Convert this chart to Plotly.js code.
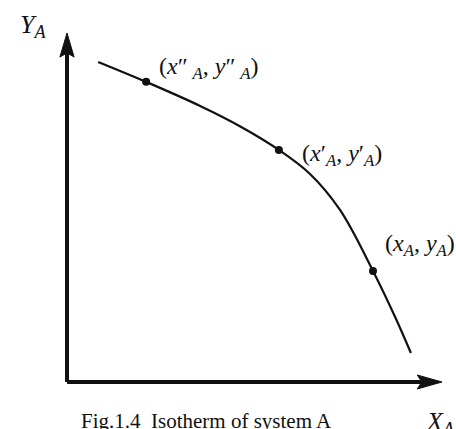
<!DOCTYPE html>
<html>
<head>
<meta charset="utf-8">
<script src="https://cdn.plot.ly/plotly-3.0.1.min.js"></script>
<style>
  html, body { margin: 0; padding: 0; background: #fff; }
  #chart { width: 456px; height: 429px; }
</style>
</head>
<body>
<div id="chart"></div>
<script>
// Isotherm of system A: Y_A against X_A (arbitrary units, 0-10)
const curveX = [0.83, 2.11, 3.55, 4.61, 5.65, 6.48, 7.28, 8.16, 8.75, 9.17];
const curveY = [9.17, 8.60, 7.91, 7.33, 6.65, 5.96, 4.93, 3.18, 1.86, 0.83];

// Three marked states on the isotherm
const stateX = [2.11, 5.65, 8.16];
const stateY = [8.60, 6.65, 3.18];
const stateLabels = [
  "(<i>x</i>\u2033\u2009<sub><i>A</i></sub>, <i>y</i>\u2033\u2009<sub><i>A</i></sub>)",
  "(<i>x</i>\u2032<sub><i>A</i></sub>, <i>y</i>\u2032<sub><i>A</i></sub>)",
  "(<i>x</i><sub><i>A</i></sub>, <i>y</i><sub><i>A</i></sub>)"
];
const labelX = [2.40, 6.21, 8.43];
const labelY = [9.00, 6.50, 3.93];

const axisMax = 10;
const xTitle = "<i>X</i><sub><i>A</i></sub>";
const yTitle = "<i>Y</i><sub><i>A</i></sub>";
const caption = "Fig.1.4  Isotherm of system A";

const serif = "Liberation Serif, Times New Roman, serif";
const ink = "#111111";

const traces = [
  {
    x: curveX, y: curveY, type: "scatter", mode: "lines",
    line: { color: ink, width: 2.2, shape: "spline", smoothing: 1.0 },
    hoverinfo: "skip"
  },
  {
    x: stateX, y: stateY, type: "scatter", mode: "markers",
    marker: { color: ink, size: 8 },
    hoverinfo: "skip"
  }
];

// arrow head sizes in data units
const headLenX = 0.66, headHalfX = 0.20;
const headLenY = 0.69, headHalfY = 0.19;
const notchX = 0.12, notchY = 0.12;

const shapes = [
  // axes
  { type: "line", x0: 0, y0: 0, x1: axisMax - headLenX + notchX, y1: 0,
    line: { color: ink, width: 4 } },
  { type: "line", x0: 0, y0: 0, x1: 0, y1: axisMax - headLenY + notchY,
    line: { color: ink, width: 4 } },
  // arrow heads
  { type: "path", fillcolor: ink, line: { color: ink, width: 1 },
    path: `M ${axisMax} 0 L ${axisMax - headLenX} ${headHalfX} L ${axisMax - headLenX + notchX} 0 L ${axisMax - headLenX} ${-headHalfX} Z` },
  { type: "path", fillcolor: ink, line: { color: ink, width: 1 },
    path: `M 0 ${axisMax} L ${-headHalfY} ${axisMax - headLenY} L 0 ${axisMax - headLenY + notchY} L ${headHalfY} ${axisMax - headLenY} Z` }
];

const annotations = stateLabels.map((t, i) => ({
  x: labelX[i], y: labelY[i], text: t, showarrow: false,
  xanchor: "left", yanchor: "middle",
  font: { family: serif, size: 24, color: ink }
}));
annotations.push(
  { x: -1.31, y: 10.20, text: yTitle, showarrow: false, xanchor: "left", yanchor: "middle",
    font: { family: serif, size: 26, color: ink } },
  { x: 9.52, y: -1.18, text: xTitle, showarrow: false, xanchor: "left", yanchor: "middle",
    font: { family: serif, size: 26, color: ink } },
  { x: 0.33, y: -1.13, text: caption, showarrow: false, xanchor: "left", yanchor: "middle",
    font: { family: serif, size: 21, color: ink } }
);

const layout = {
  width: 456, height: 429,
  margin: { l: 0, r: 0, t: 0, b: 0 },
  paper_bgcolor: "#ffffff", plot_bgcolor: "#ffffff",
  showlegend: false,
  xaxis: { range: [-1.787, 10.373], visible: false, fixedrange: true },
  yaxis: { range: [-1.347, 10.946], visible: false, fixedrange: true },
  shapes: shapes,
  annotations: annotations
};

Plotly.newPlot("chart", traces, layout, { staticPlot: true, displayModeBar: false });
</script>
</body>
</html>
